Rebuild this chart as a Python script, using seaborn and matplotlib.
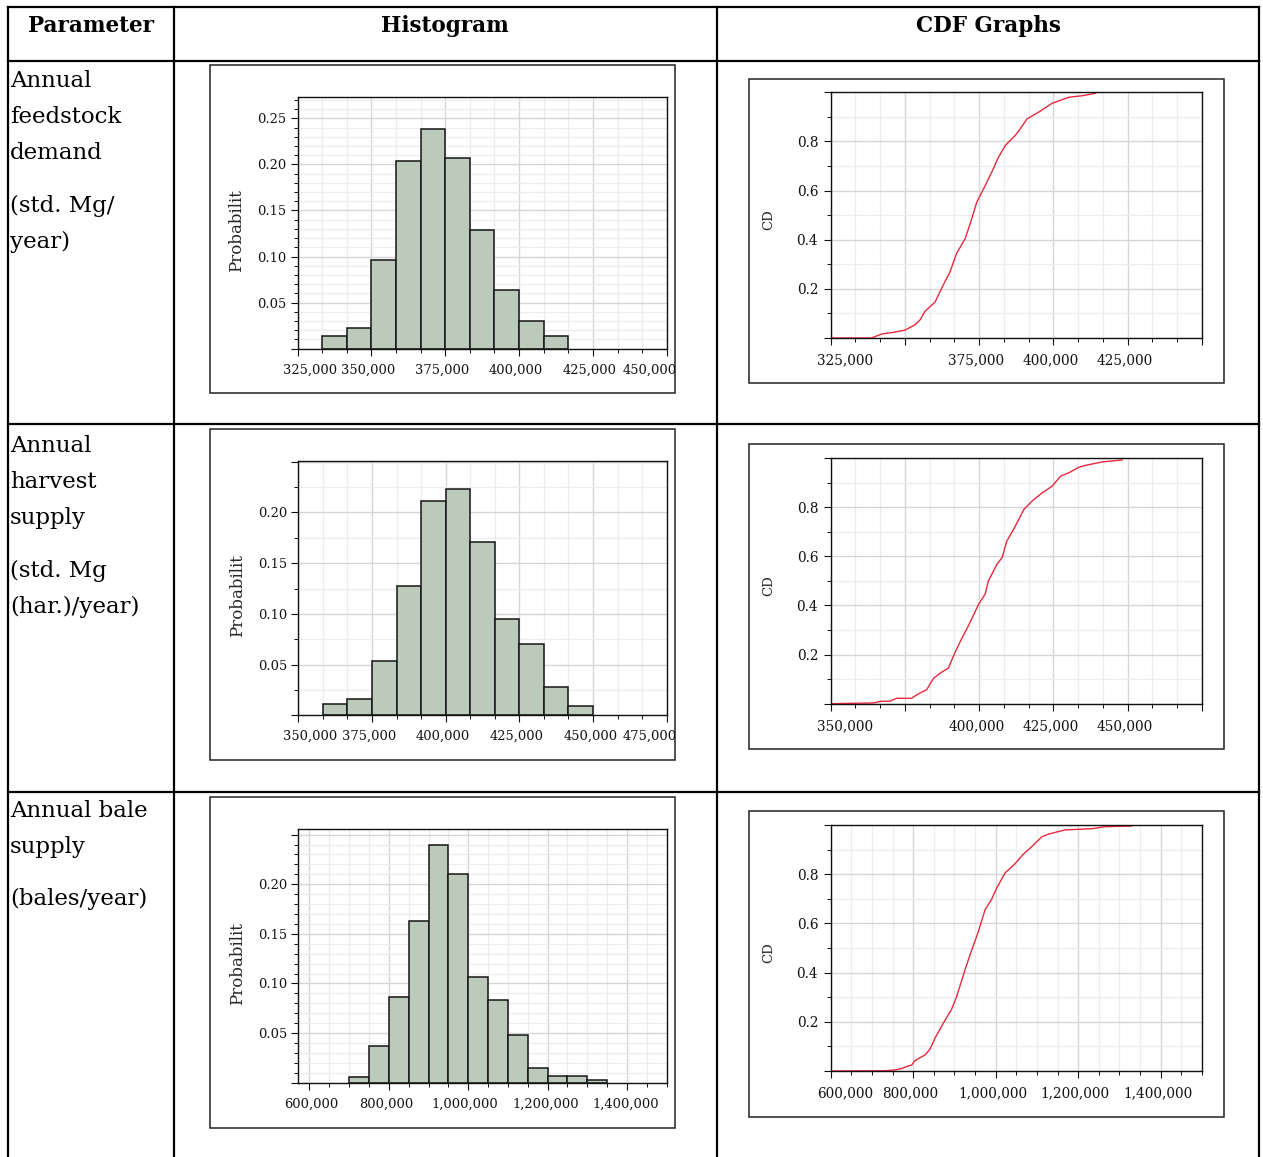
import numpy as np
import pandas as pd
import seaborn as sns
import matplotlib
matplotlib.use("Agg")
import matplotlib.pyplot as plt
from matplotlib.ticker import FixedLocator, MultipleLocator
from matplotlib.patches import Rectangle
from matplotlib.lines import Line2D
from matplotlib.transforms import ScaledTranslation, Bbox, TransformedBbox

# ---------------- data ----------------
header_labels = ["Parameter", "Histogram", "CDF Graphs"]

param1_lines = ["Annual", "feedstock", "demand", "(std. Mg/", "year)"]
param2_lines = ["Annual", "harvest", "supply", "(std. Mg", "(har.)/year)"]
param3_lines = ["Annual bale", "supply", "(bales/year)"]

# histogram 1: annual feedstock demand
hist1_first_edge = 333333.3
hist1_bin_width = 8333.33
hist1_probs = [0.014, 0.022, 0.096, 0.204, 0.238, 0.207, 0.129, 0.064, 0.030, 0.014]
hist1_xticks = [325000, 350000, 375000, 400000, 425000, 450000]
hist1_xticklabels = ["325,000", "350,000", "375,000", "400,000", "425,000", "450,000"]
hist1_yticks = [0.0, 0.05, 0.10, 0.15, 0.20, 0.25]
hist1_yticklabels = ["", "0.05", "0.10", "0.15", "0.20", "0.25"]

# histogram 2: annual harvest supply
hist2_first_edge = 358333.3
hist2_bin_width = 8333.33
hist2_probs = [0.0115, 0.016, 0.054, 0.127, 0.211, 0.223, 0.171, 0.095, 0.070, 0.028, 0.009]
hist2_xticks = [350000, 375000, 400000, 425000, 450000, 475000]
hist2_xticklabels = ["350,000", "375,000", "400,000", "425,000", "450,000", "475,000"]
hist2_yticks = [0.0, 0.05, 0.10, 0.15, 0.20, 0.25]
hist2_yticklabels = ["", "0.05", "0.10", "0.15", "0.20", ""]

# histogram 3: annual bale supply
hist3_first_edge = 700000
hist3_bin_width = 50000
hist3_probs = [0.0057, 0.0373, 0.0867, 0.1627, 0.240, 0.2104, 0.107, 0.0837,
               0.0477, 0.0148, 0.007, 0.007, 0.0027]
hist3_xticks = [600000, 800000, 1000000, 1200000, 1400000]
hist3_xticklabels = ["600,000", "800,000", "1,000,000", "1,200,000", "1,400,000"]
hist3_yticks = [0.0, 0.05, 0.10, 0.15, 0.20, 0.25]
hist3_yticklabels = ["", "0.05", "0.10", "0.15", "0.20", ""]

# CDF 1
cdf1_x = [325000, 338700, 342100, 346600, 350000, 353400, 355100, 356700, 360100,
          362900, 365200, 367400, 370300, 372500, 374200, 377000, 379800, 381300,
          383800, 387100, 388800, 391100, 395000, 399500, 405200, 409700, 414200]
cdf1_y = [0.0, 0.0, 0.016, 0.024, 0.032, 0.054, 0.074, 0.108, 0.146,
          0.216, 0.27, 0.345, 0.405, 0.486, 0.554, 0.62, 0.69, 0.732,
          0.784, 0.824, 0.851, 0.892, 0.919, 0.955, 0.98, 0.986, 0.996]
cdf1_xticks = [325000, 350000, 375000, 400000, 425000, 450000]
cdf1_xticklabels = ["325,000", "", "375,000", "400,000", "425,000", ""]

# CDF 2
cdf2_x = [350000, 364300, 367100, 369900, 372200, 377200, 379500, 382300, 384600,
          386800, 389600, 391900, 394100, 396400, 399800, 402000, 403100, 406000,
          407700, 409300, 411600, 415000, 417800, 421200, 424500, 427400, 430200,
          433500, 435800, 441400, 448200]
cdf2_y = [0.0, 0.003, 0.01, 0.01, 0.022, 0.022, 0.04, 0.057, 0.103,
          0.124, 0.145, 0.21, 0.265, 0.318, 0.405, 0.446, 0.5, 0.568,
          0.595, 0.662, 0.71, 0.79, 0.825, 0.858, 0.885, 0.926, 0.94,
          0.962, 0.97, 0.984, 0.992]
cdf2_xticks = [350000, 375000, 400000, 425000, 450000, 475000]
cdf2_xticklabels = ["350,000", "", "400,000", "425,000", "450,000", ""]

# CDF 3
cdf3_x = [600000, 731200, 755500, 771700, 783800, 796000, 804000, 828300, 840500,
          852600, 872900, 893100, 905300, 925500, 937700, 957900, 974100, 990300,
          1002400, 1022700, 1047000, 1067200, 1083400, 1111800, 1128000, 1168400,
          1233200, 1265600, 1330400]
cdf3_y = [0.0, 0.001, 0.004, 0.01, 0.018, 0.024, 0.042, 0.065, 0.088,
          0.133, 0.194, 0.251, 0.303, 0.411, 0.472, 0.567, 0.655, 0.699,
          0.744, 0.805, 0.843, 0.882, 0.906, 0.952, 0.963, 0.98,
          0.985, 0.993, 0.996]
cdf3_xticks = [600000, 800000, 1000000, 1200000, 1400000]
cdf3_xticklabels = ["600,000", "800,000", "1,000,000", "1,200,000", "1,400,000"]

cdf_yticks = [0.0, 0.2, 0.4, 0.6, 0.8, 1.0]
cdf_yticklabels = ["", "0.2", "0.4", "0.6", "0.8", ""]

# ---------------- style ----------------
sns.set_style("white")
plt.rcParams["font.family"] = ["DejaVu Serif"]

W, H = 1263, 1157
fig = plt.figure(figsize=(W / 100, H / 100), dpi=100)
fig.patch.set_facecolor("white")

BAR_COLOR = "#BBCABB"
LINE_COLOR = "#E8283C"
GRID_MAJ = "#D6D6D6"
GRID_MIN = "#EDEDED"


def px_axes(l, t, r, b):
    return fig.add_axes([l / W, 1 - b / H, (r - l) / W, (b - t) / H])


# overlay for table
ov = fig.add_axes([0, 0, 1, 1])
ov.set_xlim(0, W)
ov.set_ylim(H, 0)
ov.axis("off")
ov.patch.set_visible(False)

LW_TABLE = 1.6
for (x0, y0, x1, y1) in [(8, 7, 1259, 7), (8, 61, 1259, 61), (8, 424, 1259, 424),
                         (8, 792, 1259, 792), (8, 7, 8, H), (174, 7, 174, H),
                         (717, 7, 717, H), (1259, 7, 1259, H)]:
    ov.add_line(Line2D([x0, x1], [y0, y1], color="black", lw=LW_TABLE,
                       solid_capstyle="projecting"))

for cx, lab in zip([91, 445, 988], header_labels):
    ov.text(cx, 32, lab, ha="center", va="baseline", fontsize=15.5,
            fontweight="bold", color="black")

for lines, baselines in [(param1_lines, [87, 123, 159, 212, 248]),
                         (param2_lines, [452, 488, 524, 577, 613]),
                         (param3_lines, [817, 853, 905])]:
    for txt, yb in zip(lines, baselines):
        ov.text(10, yb, txt, ha="left", va="baseline", fontsize=16.5, color="black")

# image boxes
boxes = {
    "h1": (210, 65, 675, 393), "h2": (210, 429, 675, 760), "h3": (210, 797, 675, 1128),
    "c1": (749, 79, 1224, 383), "c2": (749, 444, 1224, 749), "c3": (749, 811, 1224, 1117),
}
for (l, t, r, b) in boxes.values():
    ov.add_patch(Rectangle((l, t), r - l, b - t, fill=False, edgecolor="#222222", lw=1.1))


def box_bbox(key):
    l, t, r, b = boxes[key]
    return TransformedBbox(Bbox([[l, t], [r, b]]), ov.transData)


def common_style(ax):
    ax.set_facecolor("white")
    for s in ax.spines.values():
        s.set_visible(True)
        s.set_color("#111111")
        s.set_linewidth(1.0)
    ax.tick_params(which="both", bottom=True, left=True, top=False, right=False)
    ax.tick_params(which="major", direction="out", length=5, width=0.8,
                   color="#111111", labelcolor="#111111")
    ax.tick_params(which="minor", direction="out", length=2.6, width=0.7,
                   color="#111111")
    ax.grid(which="major", color=GRID_MAJ, lw=1.0)
    ax.grid(which="minor", color=GRID_MIN, lw=0.9)
    ax.set_axisbelow(True)


def shift_labels(ax, offsets, clip_key):
    fig.canvas.draw()
    labs = ax.get_xticklabels()
    for lab, dx in zip(labs, offsets):
        lab.set_transform(lab.get_transform() + ScaledTranslation(dx / 100, 0, fig.dpi_scale_trans))
        lab.set_clip_on(True)
        lab.set_clip_box(box_bbox(clip_key))


def draw_hist(key, rect, first_edge, width, probs, xlim, ylim, xticks, xticklabels,
              xminor, yticks, yticklabels, yminor, offsets):
    ax = px_axes(*rect)
    n = len(probs)
    edges = [float(first_edge + width * i) for i in range(n + 1)]
    centers = [(edges[i] + edges[i + 1]) / 2 for i in range(n)]
    df = pd.DataFrame({"value": centers, "prob": probs})
    sns.histplot(data=df, x="value", weights="prob", bins=edges, stat="count",
                 color=BAR_COLOR, edgecolor="#151515", linewidth=1.1, alpha=1.0, ax=ax)
    common_style(ax)
    ax.set_xlim(*xlim)
    ax.set_ylim(*ylim)
    ax.xaxis.set_major_locator(FixedLocator(xticks))
    ax.set_xticklabels(xticklabels, fontsize=9.4)
    ax.xaxis.set_minor_locator(MultipleLocator(xminor))
    ax.yaxis.set_major_locator(FixedLocator(yticks))
    ax.set_yticklabels(yticklabels, fontsize=9.4)
    ax.yaxis.set_minor_locator(MultipleLocator(yminor))
    ax.tick_params(axis="x", pad=5.5)
    ax.tick_params(axis="y", pad=3)
    ax.set_xlabel("")
    ax.set_ylabel("Probabilit", fontsize=12)
    ax.yaxis.set_label_coords(-0.143, 0.47)
    shift_labels(ax, offsets, key)
    return ax


def draw_cdf(key, rect, xs, ys, xlim, xticks, xticklabels, xminor, offsets):
    ax = px_axes(*rect)
    sns.lineplot(x=xs, y=ys, sort=False, estimator=None, color=LINE_COLOR, lw=1.0, ax=ax)
    common_style(ax)
    ax.set_xlim(*xlim)
    ax.set_ylim(0, 1.0)
    ax.xaxis.set_major_locator(FixedLocator(xticks))
    ax.set_xticklabels(xticklabels, fontsize=9.8)
    ax.xaxis.set_minor_locator(MultipleLocator(xminor))
    ax.yaxis.set_major_locator(FixedLocator(cdf_yticks))
    ax.set_yticklabels(cdf_yticklabels, fontsize=9.8)
    ax.yaxis.set_minor_locator(MultipleLocator(0.1))
    ax.tick_params(axis="x", pad=6)
    ax.tick_params(axis="y", pad=4)
    ax.set_xlabel("")
    ax.set_ylabel("CD", fontsize=9.5)
    ax.yaxis.set_label_coords(-0.15, 0.48)
    shift_labels(ax, offsets, key)
    return ax


draw_hist("h1", (297.7, 96.7, 666.7, 348.7), hist1_first_edge, hist1_bin_width, hist1_probs,
          (325000, 450000), (0, 0.2735), hist1_xticks, hist1_xticklabels, 25000 / 3,
          hist1_yticks, hist1_yticklabels, 0.01, [12, -3, -3, -3, -3, -17])
draw_hist("h2", (298.3, 460.7, 666.7, 715.3), hist2_first_edge, hist2_bin_width, hist2_probs,
          (350000, 475000), (0, 0.251), hist2_xticks, hist2_xticklabels, 25000 / 3,
          hist2_yticks, hist2_yticklabels, 0.025, [12, -3, -3, -3, -2, -17])
draw_hist("h3", (298.3, 828.7, 666.7, 1082.7), hist3_first_edge, hist3_bin_width, hist3_probs,
          (572000, 1500000), (0, 0.256), hist3_xticks, hist3_xticklabels, 50000,
          hist3_yticks, hist3_yticklabels, 0.01, [2, -3, -3, -2, -1])

draw_cdf("c1", (830.7, 92.3, 1202, 338), cdf1_x, cdf1_y, (325000, 450000),
         cdf1_xticks, cdf1_xticklabels, 25000 / 3, [14, 0, -3, -3, -3, 0])
draw_cdf("c2", (830.7, 458, 1202, 703.7), cdf2_x, cdf2_y, (350000, 475000),
         cdf2_xticks, cdf2_xticklabels, 25000 / 3, [14, 0, -3, -3, -3, 0])
draw_cdf("c3", (830.7, 825, 1202, 1071), cdf3_x, cdf3_y, (600000, 1500000),
         cdf3_xticks, cdf3_xticklabels, 50000, [14, -3, -3, -3, -3])

fig.savefig("out.png", dpi=100, facecolor="white")
